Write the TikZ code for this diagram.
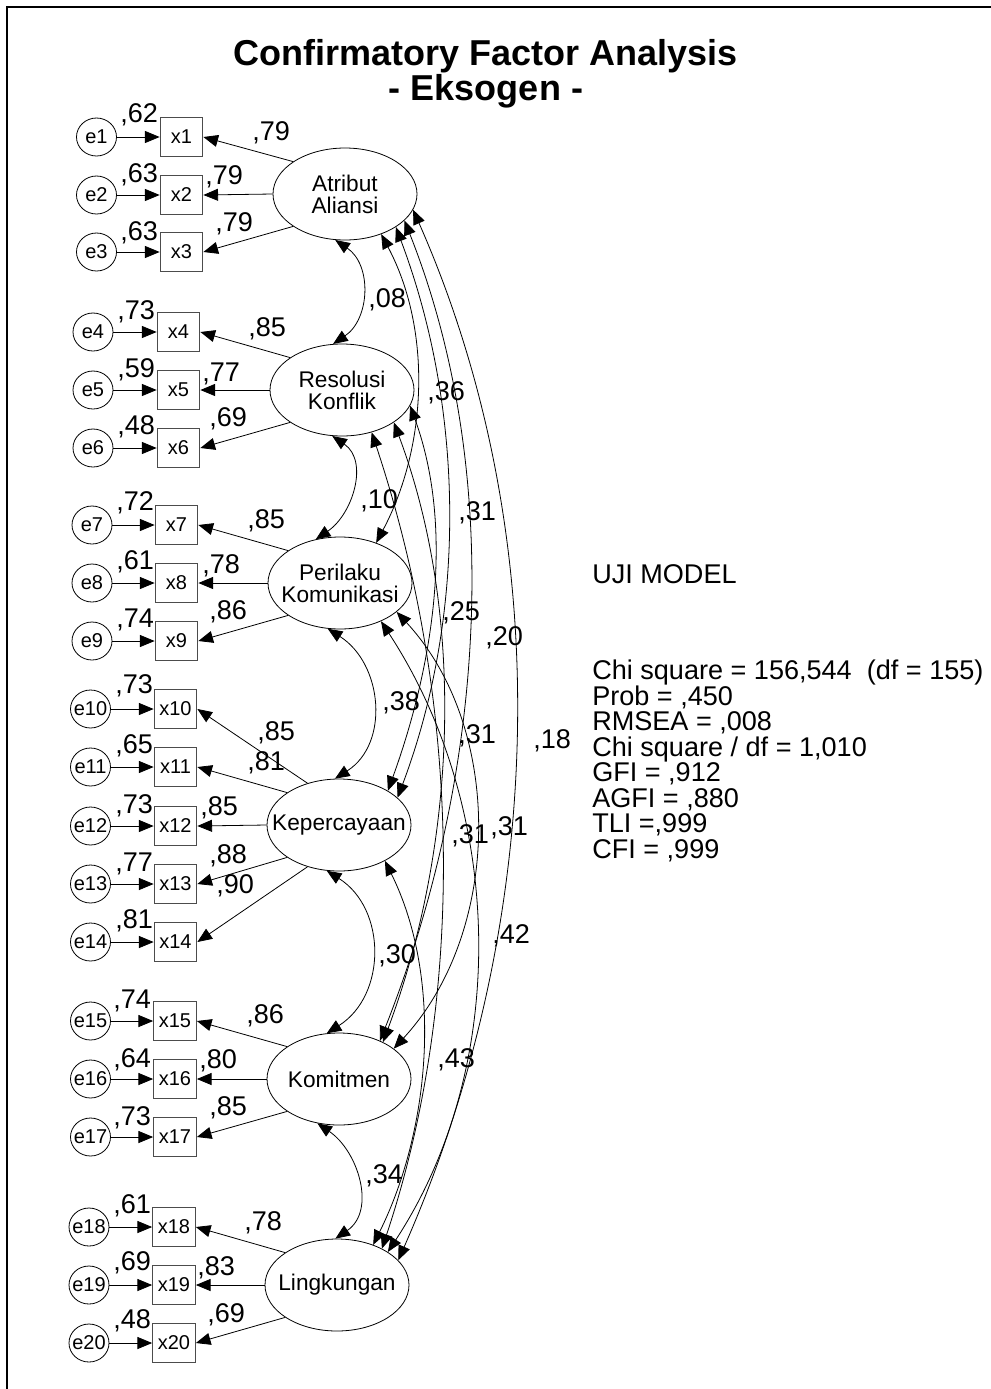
\documentclass[tikz,border=0pt]{standalone}
\usepackage{fontspec}
\setmainfont{Liberation Sans}
\usetikzlibrary{arrows.meta,shapes.geometric}
\begin{document}
\begin{tikzpicture}[x=0.75pt,y=-0.75pt,
  lat/.style={ellipse,draw,line width=0.6pt,minimum width=108pt,minimum height=69pt,inner sep=-22pt,align=center,font=\fontsize{17}{16.5}\selectfont},
  obs/.style={rectangle,draw=black!70,line width=0.8pt,minimum width=32pt,minimum height=29pt,inner sep=0pt,font=\fontsize{15}{15}\selectfont},
  err/.style={ellipse,draw,line width=0.6pt,minimum width=30pt,minimum height=28.5pt,inner sep=-8pt,font=\fontsize{15}{15}\selectfont},
  tip/.style={-{Triangle[length=11pt,width=9pt]},line width=0.6pt},
  cov/.style={{Triangle[length=11pt,width=9pt]}-{Triangle[length=11pt,width=9pt]},line width=0.6pt},
  num/.style={anchor=base west,inner sep=0pt,font=\fontsize{20.3}{20.3}\selectfont},
  ttl/.style={anchor=base,inner sep=0pt,font=\fontsize{27}{30}\selectfont\bfseries},
  stat/.style={anchor=base west,inner sep=0pt,align=left,font=\fontsize{20.3}{19.1}\selectfont},
]
\useasboundingbox (0,0) rectangle (991,1389);
\draw[line width=1.5pt] (7,1389) -- (7,7) -- (991,7);

% title
\node[ttl] (t1) at (486,65) {Confirmatory Factor Analysis};
\node[ttl] (t2) at (486,100) {- Eksogen -};

% latent factors
\node[lat] (A) at (345,194) {Atribut\\Aliansi};
\node[lat] (R) at (342,390) {Resolusi\\Konflik};
\node[lat] (P) at (340,583) {Perilaku\\Komunikasi};
\node[lat] (K) at (339,825) {Kepercayaan};
\node[lat] (M) at (339,1079) {Komitmen};
\node[lat] (L) at (337,1285) {Lingkungan};

% indicators and errors
\foreach \i/\y in {1/137,2/195,3/252}{
  \node[obs] (x\i) at (181.5,\y) {x\i};
  \node[err] (e\i) at (96.5,\y) {e\i};
  \draw[tip] (e\i) -- (x\i);
}
\foreach \i/\y in {4/332,5/390,6/448}{
  \node[obs] (x\i) at (178.5,\y) {x\i};
  \node[err] (e\i) at (93,\y) {e\i};
  \draw[tip] (e\i) -- (x\i);
}
\foreach \i/\y in {7/525,8/583,9/641}{
  \node[obs] (x\i) at (176.5,\y) {x\i};
  \node[err] (e\i) at (92,\y) {e\i};
  \draw[tip] (e\i) -- (x\i);
}
\foreach \i/\y in {10/709,11/767,12/826,13/884,14/942}{
  \node[obs] (x\i) at (175.5,\y) {x\i};
  \node[err] (e\i) at (90.5,\y) {e\i};
  \draw[tip] (e\i) -- (x\i);
}
\foreach \i/\y in {15/1021,16/1079,17/1137}{
  \node[obs] (x\i) at (175,\y) {x\i};
  \node[err] (e\i) at (90.5,\y) {e\i};
  \draw[tip] (e\i) -- (x\i);
}
\foreach \i/\y in {18/1227,19/1285,20/1343}{
  \node[obs] (x\i) at (174,\y) {x\i};
  \node[err] (e\i) at (89,\y) {e\i};
  \draw[tip] (e\i) -- (x\i);
}

% loadings
\draw[tip] (A.148) -- (x1.east);
\draw[tip] (A.west) -- (x2.east);
\draw[tip] (A.212) -- (x3.east);
\draw[tip] (R.148) -- (x4.east);
\draw[tip] (R.west) -- (x5.east);
\draw[tip] (R.212) -- (x6.east);
\draw[tip] (P.148) -- (x7.east);
\draw[tip] (P.west) -- (x8.east);
\draw[tip] (P.212) -- (x9.east);
\draw[tip] (K.127) -- (x10.east);
\draw[tip] (K.148) -- (x11.east);
\draw[tip] (K.west) -- (x12.east);
\draw[tip] (K.212) -- (x13.east);
\draw[tip] (K.233) -- (x14.east);
\draw[tip] (M.148) -- (x15.east);
\draw[tip] (M.west) -- (x16.east);
\draw[tip] (M.212) -- (x17.east);
\draw[tip] (L.148) -- (x18.east);
\draw[tip] (L.west) -- (x19.east);
\draw[tip] (L.212) -- (x20.east);

% error variance labels
\foreach \x/\y/\t [count=\n] in {120/122/62,120/182/63,120/240/63,
  117/319/73,117/377/59,117/434/48,
  116/510/72,116/569/61,116/627/74,
  115/693/73,115/753/65,115/813/73,115/871/77,115/928/81,
  113/1008/74,113/1067/64,113/1125/73,
  113/1213/61,113/1270/69,113/1328/48}{
  \node[num] (r\n) at (\x,\y) {,\t};
}
% loading labels
\foreach \x/\y/\t [count=\n] in {252/140/79,205/184/79,215/231/79,
  248/336/85,202/381/77,209/426/69,
  247/528/85,202/573/78,209/619/86,
  257/740/85,247/770/81,200/815/85,209/863/88,216/893/90,
  246/1023/86,199/1068/80,209/1115/85,
  244/1230/78,197/1275/83,207/1322/69}{
  \node[num] (l\n) at (\x,\y) {,\t};
}

% covariances (adjacent)
\draw[cov] (A.-102) .. controls +(37,25) and +(37,-25) .. (R.101);
\draw[cov] (R.-102) .. controls +(37,25) and +(37,-25) .. (P.119);
\draw[cov] (P.-105) .. controls +(55,35) and +(55,-35) .. (K.95);
\draw[cov] (K.-105) .. controls +(60,38) and +(60,-38) .. (M.105);
\draw[cov] (M.-116) .. controls +(41,28) and +(41,-28) .. (L.92);
% covariances (long)
\draw[cov] (A.-48) .. controls +(51,96) and +(51,-96) .. (P.48);
\draw[cov] (A.-33) .. controls +(69,183) and +(69,-183) .. (K.25);
\draw[cov] (A.-24) .. controls +(103,260) and +(103,-260) .. (M.43);
\draw[cov] (A.-13) .. controls +(147,333) and +(147,-333) .. (L.22);
\draw[cov] (R.-13) .. controls +(45,124) and +(45,-124) .. (K.35);
\draw[cov] (R.-32) .. controls +(73,195) and +(73,-195) .. (M.40);
\draw[cov] (R.-55) .. controls +(87,261) and +(87,-261) .. (L.39);
\draw[cov] (P.-27) .. controls +(108,117) and +(108,-117) .. (M.29);
\draw[cov] (P.-43) .. controls +(123,188) and +(123,-188) .. (L.33);
\draw[cov] (K.-38) .. controls +(58,117) and +(58,-117) .. (L.48);

% covariance labels
\node[num] (c1) at (368,307) {,08};
\node[num] (c2) at (360,508) {,10};
\node[num] (c3) at (382,710) {,38};
\node[num] (c4) at (378,963) {,30};
\node[num] (c5) at (365,1183) {,34};
\node[num] (c6) at (427,400) {,36};
\node[num] (c7) at (458,520) {,31};
\node[num] (c8) at (442,620) {,25};
\node[num] (c9) at (485,645) {,20};
\node[num] (c10) at (458,743) {,31};
\node[num] (c11) at (533,748) {,18};
\node[num] (c12) at (451,843) {,31};
\node[num] (c13) at (490,835) {,31};
\node[num] (c14) at (492,943) {,42};
\node[num] (c15) at (437,1067) {,43};

% model test
\node[stat] (s0) at (592,583) {UJI MODEL};
\node[stat,anchor=north west] (s1) at (592,660) {Chi square = 156,544\ \ (df = 155)\\
Prob = ,450\\
RMSEA = ,008\\
Chi square / df = 1,010\\
GFI = ,912\\
AGFI = ,880\\
TLI =,999\\
CFI = ,999};
\end{tikzpicture}
\end{document}
